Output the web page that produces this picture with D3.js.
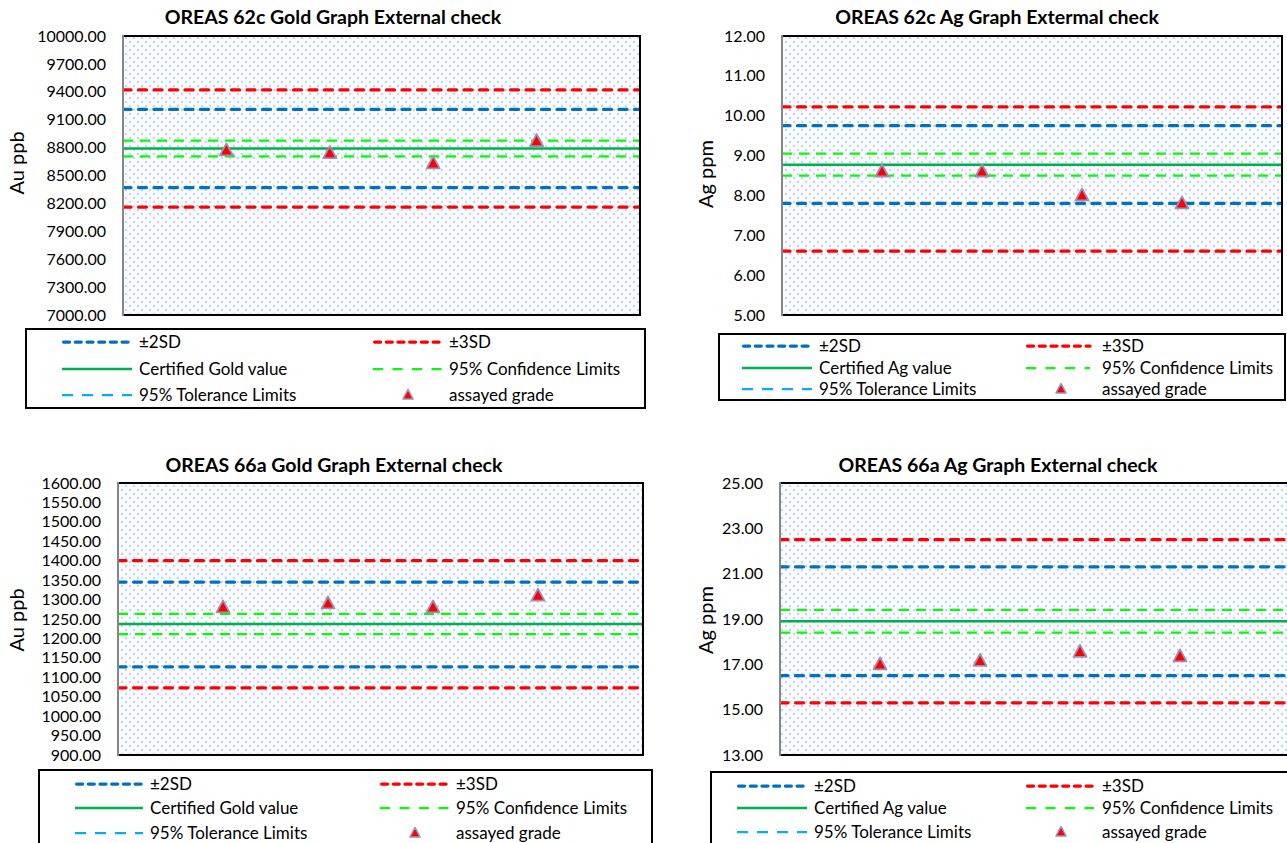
<!DOCTYPE html>
<html><head><meta charset="utf-8">
<script src="https://cdn.jsdelivr.net/npm/d3@7"></script>
<style>
html,body{margin:0;padding:0;background:#fff;}
svg{display:block;font-family:Lato,"Open Sans",sans-serif;}
</style>
</head><body>
<svg id="chart" width="1287" height="843"></svg>
<script>
// ---------- data ----------
const samples = [1, 2, 3, 4];

// OREAS 62c Gold (Au ppb)
const gold62cTicks = [7000, 7300, 7600, 7900, 8200, 8500, 8800, 9100, 9400, 9700, 10000];
const gold62cAssayed = [8770, 8740, 8630, 8870];
const gold62cCertified = [8790];
const gold62cSD2 = [8370, 9210];
const gold62cSD3 = [8160, 9420];
const gold62cConfidence = [8705, 8875];

// OREAS 62c Ag (Ag ppm)
const ag62cTicks = [5, 6, 7, 8, 9, 10, 11, 12];
const ag62cAssayed = [8.6, 8.6, 8.0, 7.8];
const ag62cCertified = [8.77];
const ag62cSD2 = [7.8, 9.75];
const ag62cSD3 = [6.6, 10.22];
const ag62cConfidence = [8.5, 9.05];

// OREAS 66a Gold (Au ppb)
const gold66aTicks = [900, 950, 1000, 1050, 1100, 1150, 1200, 1250, 1300, 1350, 1400, 1450, 1500, 1550, 1600];
const gold66aAssayed = [1280, 1290, 1280, 1310];
const gold66aCertified = [1237];
const gold66aSD2 = [1127, 1345];
const gold66aSD3 = [1073, 1400];
const gold66aConfidence = [1211, 1263];

// OREAS 66a Ag (Ag ppm)
const ag66aTicks = [13, 15, 17, 19, 21, 23, 25];
const ag66aAssayed = [17.0, 17.15, 17.55, 17.35];
const ag66aCertified = [18.9];
const ag66aSD2 = [16.5, 21.3];
const ag66aSD3 = [15.3, 22.5];
const ag66aConfidence = [18.4, 19.4];

const chartTitles = [
  "OREAS 62c Gold Graph External check",
  "OREAS 62c Ag Graph Extermal check",
  "OREAS 66a Gold Graph External check",
  "OREAS 66a Ag Graph External check"
];
const yTitles = ["Au ppb", "Ag ppm", "Au ppb", "Ag ppm"];
const legendGold = ["±2SD", "±3SD", "Certified Gold value", "95% Confidence Limits", "95% Tolerance Limits", "assayed grade"];
const legendAg = ["±2SD", "±3SD", "Certified Ag value", "95% Confidence Limits", "95% Tolerance Limits", "assayed grade"];

// ---------- styles ----------
const C = {
  sd2: "#0070c0", sd3: "#ff0000", cert: "#00b050", conf: "#00ff00", tol: "#00b0f0",
  triFill: "#ff0000", triStroke: "#9d8fb6"
};

// ---------- panel layout (positions only) ----------
const panels = [
  { ticks: gold62cTicks, assayed: gold62cAssayed, cert: gold62cCertified, sd2: gold62cSD2, sd3: gold62cSD3, conf: gold62cConfidence,
    title: chartTitles[0], ytitle: yTitles[0], legend: legendGold,
    plot: {l: 123, r: 640, t: 36, b: 315}, xMax: 5, titleAt: [333, 24], ytAt: [16.5, 163],
    lg: {l: 26, r: 645, t: 329, b: 408, rows: [342, 369, 395], c1: [62, 132, 139], c2: [373, 443, 449, 408]} },
  { ticks: ag62cTicks, assayed: ag62cAssayed, cert: ag62cCertified, sd2: ag62cSD2, sd3: ag62cSD3, conf: ag62cConfidence,
    title: chartTitles[1], ytitle: yTitles[1], legend: legendAg,
    plot: {l: 782, r: 1282, t: 36, b: 315}, xMax: 5, titleAt: [997, 24], ytAt: [705.5, 174],
    lg: {l: 719, r: 1285, t: 334, b: 400, rows: [346, 368, 389], c1: [742, 812, 819], c2: [1026, 1090, 1102, 1061]} },
  { ticks: gold66aTicks, assayed: gold66aAssayed, cert: gold66aCertified, sd2: gold66aSD2, sd3: gold66aSD3, conf: gold66aConfidence,
    title: chartTitles[2], ytitle: yTitles[2], legend: legendGold,
    plot: {l: 118, r: 643, t: 483, b: 755}, xMax: 5, titleAt: [334, 472], ytAt: [16.5, 620],
    lg: {l: 39, r: 652, t: 770, b: 852, rows: [784, 808, 833], c1: [75, 143, 150], c2: [380, 450, 456, 415]} },
  { ticks: ag66aTicks, assayed: ag66aAssayed, cert: ag66aCertified, sd2: ag66aSD2, sd3: ag66aSD3, conf: ag66aConfidence,
    title: chartTitles[3], ytitle: yTitles[3], legend: legendAg,
    plot: {l: 780, r: 1290, t: 483, b: 755}, xMax: 5.1, titleAt: [998, 472], ytAt: [706, 620],
    lg: {l: 711, r: 1296, t: 772, b: 852, rows: [786, 808, 832], c1: [737, 807, 814], c2: [1026, 1094, 1102, 1061]} }
];

const svg = d3.select("#chart");
const defs = svg.append("defs");
const pat = defs.append("pattern").attr("id", "dots").attr("patternUnits", "userSpaceOnUse")
  .attr("width", 8).attr("height", 8);
pat.append("rect").attr("width", 8).attr("height", 8).attr("fill", "#f9fbfe");
pat.append("circle").attr("cx", 2).attr("cy", 2).attr("r", 1.15).attr("fill", "#c3d3ee");
pat.append("circle").attr("cx", 6).attr("cy", 6).attr("r", 1.15).attr("fill", "#c3d3ee");

const triPath = "M0,-7L6.5,5L-6.5,5Z";

panels.forEach((p, i) => {
  const g = svg.append("g");
  const x = d3.scaleLinear().domain([0, p.xMax]).range([p.plot.l, p.plot.r]);
  const y = d3.scaleLinear().domain([d3.min(p.ticks), d3.max(p.ticks)]).range([p.plot.b, p.plot.t]);

  const clipId = "clip" + i;
  defs.append("clipPath").attr("id", clipId).append("rect")
    .attr("x", p.plot.l).attr("y", p.plot.t).attr("width", p.plot.r - p.plot.l).attr("height", p.plot.b - p.plot.t);

  g.append("rect").attr("x", p.plot.l).attr("y", p.plot.t)
    .attr("width", p.plot.r - p.plot.l).attr("height", p.plot.b - p.plot.t).attr("fill", "url(#dots)");

  const pg = g.append("g").attr("clip-path", `url(#${clipId})`);
  const line = d3.line().x(d => x(d[0])).y(d => y(d[1]));
  const hseries = (vals, color, width, dash, cap) => {
    vals.forEach(v => {
      pg.append("path").datum([[0, v], [p.xMax, v]])
        .attr("d", line).attr("fill", "none").attr("stroke", color)
        .attr("stroke-width", width).attr("stroke-dasharray", dash).attr("stroke-linecap", cap);
    });
  };
  hseries(p.sd3, C.sd3, 3.25, "8,7.5", "round");
  hseries(p.sd2, C.sd2, 3.25, "8,7.5", "round");
  hseries(p.conf, C.conf, 2.25, "10,7", "butt");
  hseries(p.cert, C.cert, 2.5, null, "butt");

  pg.selectAll("path.tri").data(p.assayed).enter().append("path").attr("class", "tri")
    .attr("d", triPath)
    .attr("transform", (d, k) => `translate(${x(samples[k])},${y(d)})`)
    .attr("fill", C.triFill).attr("stroke", C.triStroke).attr("stroke-width", 1.8)
    .attr("stroke-linejoin", "round");

  // plot frame
  g.append("path").attr("d", `M${p.plot.l},${p.plot.t}H${p.plot.r}V${p.plot.b}H${p.plot.l}`)
    .attr("fill", "none").attr("stroke", "#000").attr("stroke-width", 2);
  g.append("line").attr("x1", p.plot.l).attr("x2", p.plot.l).attr("y1", p.plot.t - 1).attr("y2", p.plot.b + 1)
    .attr("stroke", "#868686").attr("stroke-width", 2);

  // y axis
  const ax = g.append("g").attr("transform", `translate(${p.plot.l},0)`)
    .call(d3.axisLeft(y).tickValues(p.ticks).tickFormat(d3.format(".2f")).tickSize(0).tickPadding(17));
  ax.select(".domain").remove();
  ax.selectAll("text").attr("font-size", 16).attr("fill", "#000").attr("font-family", "Lato, 'Open Sans', sans-serif");

  // titles
  g.append("text").attr("x", p.titleAt[0]).attr("y", p.titleAt[1]).attr("text-anchor", "middle")
    .attr("font-size", 19.5).attr("font-weight", "bold").attr("fill", "#000").text(p.title);
  g.append("text").attr("transform", `translate(${p.ytAt[0]},${p.ytAt[1]}) rotate(-90)`)
    .attr("text-anchor", "middle").attr("dy", "0.35em").attr("font-size", 20).attr("fill", "#000").text(p.ytitle);

  // legend
  const L = p.lg;
  g.append("rect").attr("x", L.l).attr("y", L.t).attr("width", L.r - L.l).attr("height", L.b - L.t)
    .attr("fill", "#fff").attr("stroke", "#000").attr("stroke-width", 2);
  const sample = (x0, x1, yy, color, w, dash, cap) => {
    g.append("line").attr("x1", x0).attr("x2", x1).attr("y1", yy).attr("y2", yy)
      .attr("stroke", color).attr("stroke-width", w).attr("stroke-dasharray", dash).attr("stroke-linecap", cap);
  };
  const label = (tx, yy, t) => g.append("text").attr("x", tx).attr("y", yy).attr("dy", "0.36em")
    .attr("font-size", 17).attr("fill", "#000").text(t);

  sample(L.c1[0] + 1.6, L.c1[1], L.rows[0], C.sd2, 3.25, "6,5.7", "round");
  label(L.c1[2], L.rows[0], p.legend[0]);
  sample(L.c2[0] + 1.6, L.c2[1], L.rows[0], C.sd3, 3.25, "6,5.7", "round");
  label(L.c2[2], L.rows[0], p.legend[1]);
  sample(L.c1[0], L.c1[1], L.rows[1], C.cert, 2.5, null, "butt");
  label(L.c1[2], L.rows[1], p.legend[2]);
  sample(L.c2[0], L.c2[1], L.rows[1], C.conf, 2.25, "10,9.5", "butt");
  label(L.c2[2], L.rows[1], p.legend[3]);
  sample(L.c1[0], L.c1[1], L.rows[2], C.tol, 2.25, "11,9", "butt");
  label(L.c1[2], L.rows[2], p.legend[4]);
  g.append("path").attr("d", "M0,-5.5L5,4L-5,4Z").attr("transform", `translate(${L.c2[3]},${L.rows[2]})`)
    .attr("fill", C.triFill).attr("stroke", C.triStroke).attr("stroke-width", 1.6).attr("stroke-linejoin", "round");
  label(L.c2[2], L.rows[2], p.legend[5]);
});
</script>
</body></html>
